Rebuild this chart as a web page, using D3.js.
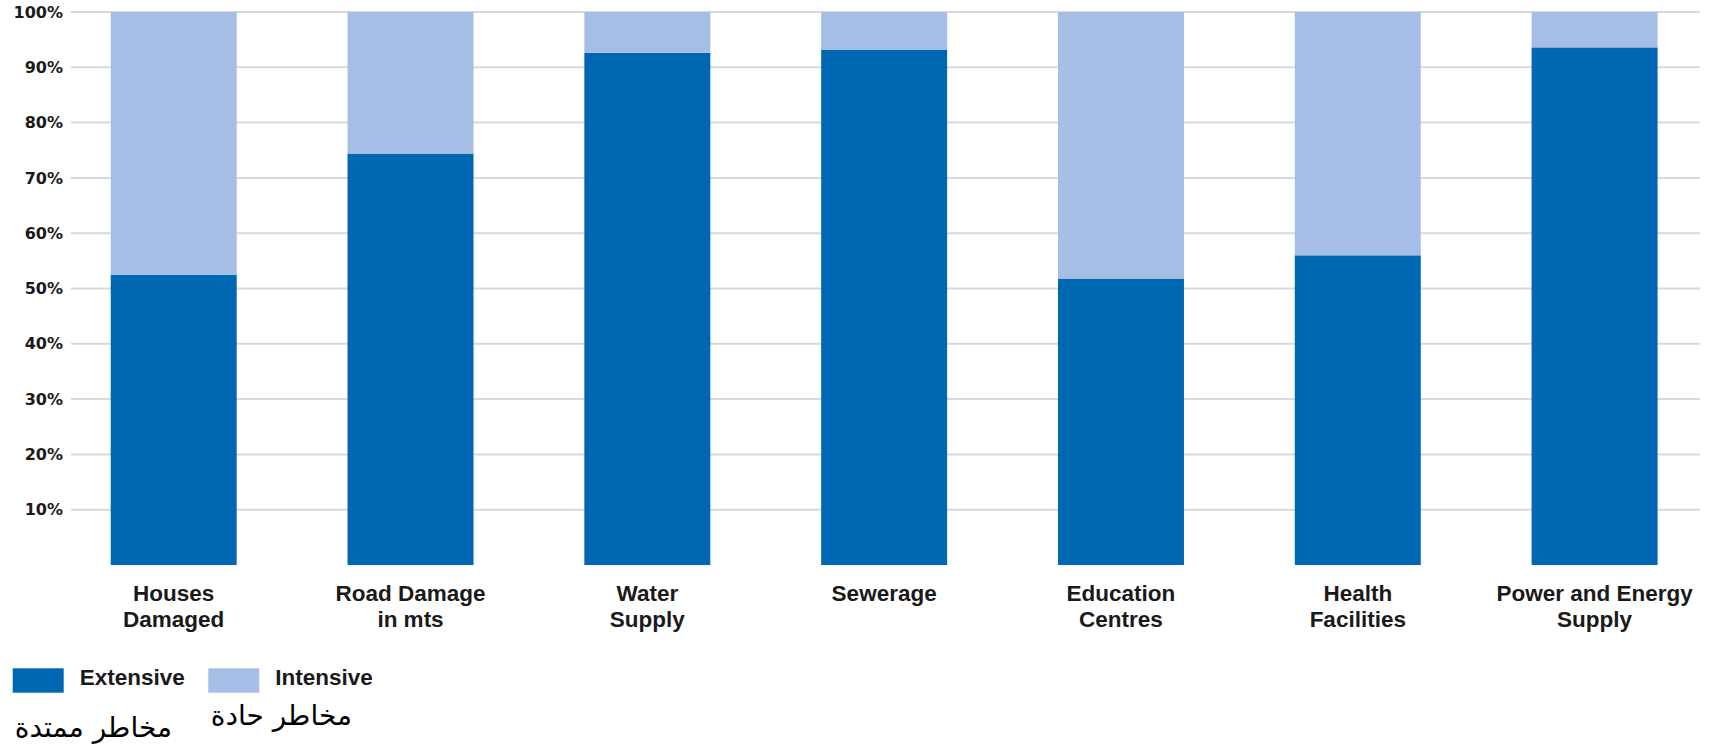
<!DOCTYPE html>
<html>
<head>
<meta charset="utf-8">
<script src="https://cdn.jsdelivr.net/npm/d3@7/dist/d3.min.js"></script>
<style>
  html, body { margin: 0; padding: 0; background: #ffffff; }
  svg { display: block; }
</style>
</head>
<body>
<svg id="chart" width="1719" height="746"></svg>
<script>
// Share of damage by hazard type, per sector
const categories = [
  ["Houses", "Damaged"],
  ["Road Damage", "in mts"],
  ["Water", "Supply"],
  ["Sewerage"],
  ["Education", "Centres"],
  ["Health", "Facilities"],
  ["Power and Energy", "Supply"]
];
const extensive = [52.5, 74.4, 92.6, 93.2, 51.8, 56.0, 93.6];
const intensive = extensive.map(v => 100 - v);
const yTicks = [10, 20, 30, 40, 50, 60, 70, 80, 90, 100];
const seriesNames = ["Extensive", "Intensive"];
const seriesArabic = ["مخاطر ممتدة", "مخاطر حادة"];
const colors = ["#0067b2", "#a6bee5"];

const svg = d3.select("#chart");
const labelFont = "'Liberation Sans', Arial, sans-serif";

const x = d3.scaleBand()
  .domain(d3.range(categories.length))
  .range([55.3, 1713])
  .paddingInner(0.468)
  .paddingOuter(0.234);

const y = d3.scaleLinear().domain([0, 100]).range([565, 12]);

// horizontal gridlines
svg.append("g")
  .selectAll("line")
  .data(yTicks)
  .join("line")
  .attr("x1", 71)
  .attr("x2", 1700)
  .attr("y1", d => y(d))
  .attr("y2", d => y(d))
  .attr("stroke", "#d9d9d9")
  .attr("stroke-width", 2);

// y axis labels
const yAxis = d3.axisLeft(y)
  .tickValues(yTicks)
  .tickFormat(d => d + "%")
  .tickSize(0)
  .tickPadding(0);
const ya = svg.append("g").attr("transform", "translate(63,0)").call(yAxis);
ya.select(".domain").remove();
ya.selectAll("text")
  .attr("font-family", "'DejaVu Sans', sans-serif")
  .attr("font-weight", "bold")
  .attr("font-size", 16)
  .attr("fill", "#1a1a1a");

// stacked bars
const stackData = categories.map((c, i) => ({ i, Extensive: extensive[i], Intensive: intensive[i] }));
const stacked = d3.stack().keys(seriesNames)(stackData);

svg.append("g")
  .selectAll("g")
  .data(stacked)
  .join("g")
  .attr("fill", (d, k) => colors[k])
  .selectAll("rect")
  .data(d => d)
  .join("rect")
  .attr("x", d => x(d.data.i))
  .attr("width", x.bandwidth())
  .attr("y", d => y(d[1]))
  .attr("height", d => y(d[0]) - y(d[1]));

// category labels, one text per line
const catLines = categories.flatMap((lines, i) => lines.map((t, j) => ({ i, j, t })));
svg.append("g")
  .selectAll("text")
  .data(catLines)
  .join("text")
  .attr("x", d => x(d.i) + x.bandwidth() / 2)
  .attr("y", d => 601 + d.j * 26)
  .attr("text-anchor", "middle")
  .attr("font-family", labelFont)
  .attr("font-weight", 700)
  .attr("font-size", 22.5)
  .attr("fill", "#1a1a1a")
  .text(d => d.t);

// legend
const legendX = [12.7, 208.3];
const lg = svg.append("g");
seriesNames.forEach((name, k) => {
  lg.append("rect")
    .attr("x", legendX[k])
    .attr("y", 668.3)
    .attr("width", 51)
    .attr("height", 24.4)
    .attr("fill", colors[k]);
  lg.append("text")
    .attr("x", legendX[k] + 67)
    .attr("y", 684.5)
    .attr("font-family", labelFont)
    .attr("font-weight", 700)
    .attr("font-size", 22.5)
    .attr("fill", "#1a1a1a")
    .text(name);
});

// Arabic series names
lg.append("text")
  .attr("x", 172)
  .attr("y", 737)
  .attr("text-anchor", "end")
  .attr("font-family", "'DejaVu Sans', sans-serif")
  .attr("font-size", 28)
  .attr("fill", "#000")
  .text(seriesArabic[0]);
lg.append("text")
  .attr("x", 352)
  .attr("y", 725)
  .attr("text-anchor", "end")
  .attr("font-family", "'DejaVu Sans', sans-serif")
  .attr("font-size", 28)
  .attr("fill", "#000")
  .text(seriesArabic[1]);
</script>
</body>
</html>
